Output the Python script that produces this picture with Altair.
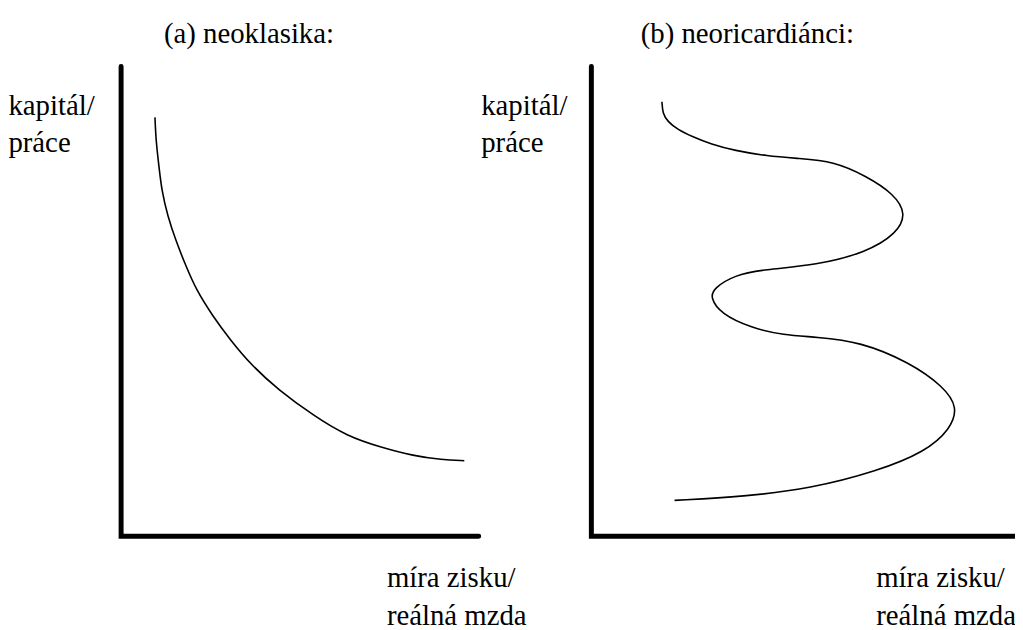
import altair as alt
import pandas as pd

# ---------------- data (panel units: axis corner = 0,0; axis length ~ 100) ----------------
# (a) neoklasika curve
a_curve_x = [9.4, 9.7, 10.5, 11.3, 12.9, 15.2, 17.9, 20.9, 25.3, 30.3, 36.1, 43.5, 53.7, 62.8, 71.9, 81.3, 89.0, 95.3]
a_curve_y = [88.7, 83.6, 78.4, 73.1, 67.9, 62.6, 57.4, 52.1, 46.8, 41.6, 36.3, 31.1, 25.4, 21.2, 18.9, 17.0, 16.2, 16.0]

# (b) neoricardiánci curve (S-shaped, re-switching)
b_curve_x = [19.6, 19.8, 21.2, 24.0, 27.8, 33.3, 39.7, 48.8, 57.6, 67.2, 76.3, 84.0, 87.5, 84.8, 76.3, 62.5, 47.9,
             39.7, 34.0, 33.0, 35.9, 44.4, 53.4, 62.3, 74.7, 88.4, 97.8, 101.8, 99.7, 92.8, 79.1, 60.9, 42.4, 23.1]
b_curve_y = [92.0, 89.5, 87.8, 86.1, 84.7, 83.0, 81.7, 80.5, 80.0, 79.4, 76.3, 72.5, 68.3, 64.1, 60.1, 57.4, 56.5,
             55.3, 52.5, 50.6, 47.1, 44.1, 42.6, 42.2, 41.2, 36.8, 31.7, 27.3, 22.7, 17.9, 13.7, 10.1, 8.4, 7.6]

# axes (top of y axis -> corner -> end of x axis)
a_axis_x = [0, 0, 99.3]
a_axis_y = [99.5, 0, 0]
b_axis_x = [0, 0, 125]
b_axis_y = [99.5, 0, 0]

# texts
a_title = "(a) neoklasika:"
b_title = "(b) neoricardiánci:"
y_label_lines = ["kapitál/", "práce"]
x_label_lines = ["míra zisku/", "reálná mzda"]

FS = 29
PANEL_B_SHIFT = 130.58   # horizontal offset of panel (b) origin, in panel units


def xs():
    return alt.Scale(domain=[-31.405, 248.21], range=[0, 1015], nice=False, zero=False)


def ys():
    return alt.Scale(domain=[0, 100], range=[530, 54], nice=False, zero=False)


def text_layer(s, x, y, align):
    df = pd.DataFrame({"x": [x], "y": [y], "t": [s]})
    return alt.Chart(df).mark_text(font="Liberation Serif", fontSize=FS, align=align).encode(
        x=alt.X("x:Q", scale=xs(), axis=None),
        y=alt.Y("y:Q", scale=ys(), axis=None),
        text="t:N",
    )


def line_layer(lx, ly, shift, **mark):
    df = pd.DataFrame({"x": [v + 0 for v in lx], "y": ly, "i": list(range(len(lx)))})
    return alt.Chart(df).transform_calculate(xf="datum.x + %f" % shift).mark_line(
        color="black", **mark
    ).encode(
        x=alt.X("xf:Q", scale=xs(), axis=None),
        y=alt.Y("y:Q", scale=ys(), axis=None),
        order="i:Q",
    )


texts = []
for shift, title, title_x, ylab_x, xlab_x in [
    (0.0, a_title, 35.5, -31.3, 73.8),
    (PANEL_B_SHIFT, b_title, 43.3, -30.6, 79.1),
]:
    texts.append(text_layer(title, title_x + shift, 106.4, "center"))
    texts.append(text_layer(y_label_lines[0], ylab_x + shift, 91.1, "left"))
    texts.append(text_layer(y_label_lines[1], ylab_x + shift, 83.3, "left"))
    texts.append(text_layer(x_label_lines[0], xlab_x + shift, -8.9, "left"))
    texts.append(text_layer(x_label_lines[1], xlab_x + shift, -16.9, "left"))

lines = [
    line_layer(a_axis_x, a_axis_y, 0.0, strokeWidth=5, strokeCap="round", strokeJoin="miter"),
    line_layer(a_curve_x, a_curve_y, 0.0, strokeWidth=1.6, interpolate="basis"),
    line_layer(b_axis_x, b_axis_y, PANEL_B_SHIFT, strokeWidth=5, strokeCap="round", strokeJoin="miter"),
    line_layer(b_curve_x, b_curve_y, PANEL_B_SHIFT, strokeWidth=1.6, interpolate="basis"),
]

chart = alt.layer(*texts, *lines).properties(
    width=1015, height=622, padding=0,
    autosize=alt.AutoSizeParams(type="none"),
    view=alt.ViewConfig(stroke="transparent"),
)

chart.save("out.html", embed_options={"renderer": "svg", "actions": False})
